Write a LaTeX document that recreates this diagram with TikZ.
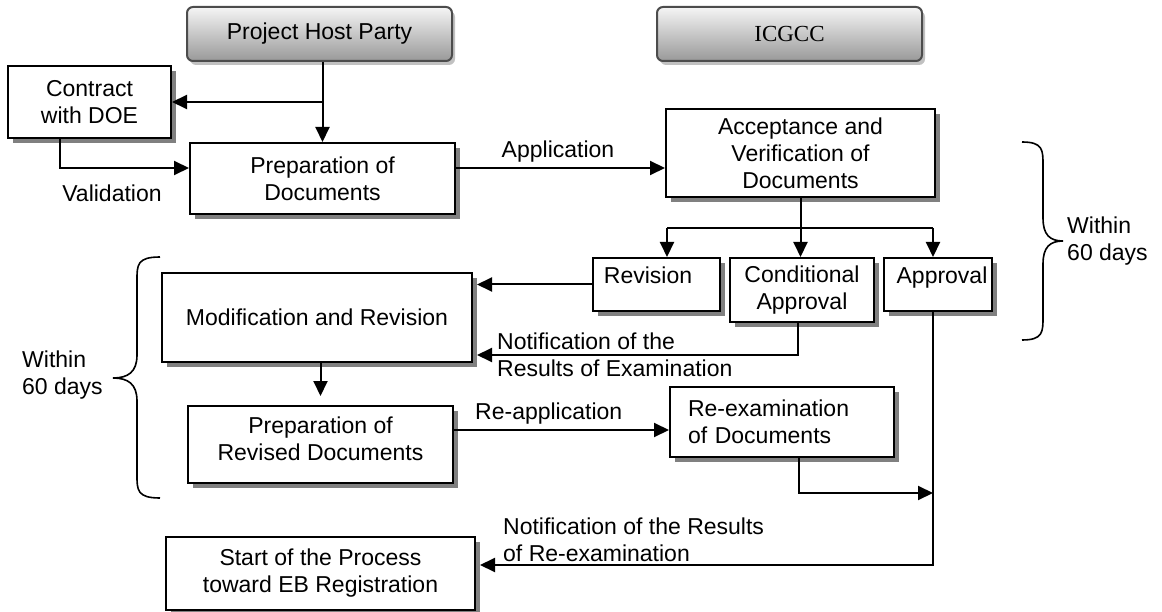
\documentclass[tikz,border=0pt]{standalone}
\usepackage{fontspec}
\setmainfont{Liberation Sans}
\newfontfamily\timesfont{Liberation Serif}
\usetikzlibrary{arrows.meta,shadows,calc}
\begin{document}
\begin{tikzpicture}[x=1pt,y=-1pt,
  every node/.style={font=\fontsize{23}{27}\selectfont, inner sep=0pt},
  box/.style={draw=black, line width=2pt, fill=white, align=center,
    drop shadow={shadow xshift=5pt, shadow yshift=-5pt, fill=black!50, opacity=1}},
  headbox/.style={draw=black!70, line width=2pt, rounded corners=6pt, align=center,
    top color=white!96!black, bottom color=black!40,
    drop shadow={shadow xshift=3pt, shadow yshift=-4pt, fill=black!30, opacity=0.8}},
  conn/.style={line width=2pt},
  arr/.style={conn, -{Triangle[length=15pt,width=14pt]}},
  brace/.style={line width=1.6pt}
]
\useasboundingbox (0,0) rectangle (1162,612);

% header boxes
\node[headbox, minimum width=265, minimum height=54] (php) at (319.5,34) {Project Host Party};
\node[headbox, minimum width=265, minimum height=54] (icgcc) at (789.5,34) {\timesfont ICGCC};

% process boxes
\node[box, minimum width=163, minimum height=72] (contract) at (89.5,102) {Contract\\with DOE};
\node[box, minimum width=265, minimum height=71] (prep) at (322.5,178.5) {Preparation of\\Documents};
\node[box, minimum width=269, minimum height=88] (accept) at (800.5,153) {Acceptance and\\Verification of\\Documents};
\node[box, minimum width=127, minimum height=53] (rev) at (656.5,284.5) {};
\node[anchor=north] (revt) at (648,267) {\vphantom{A}\smash{Revision}};
\node[box, minimum width=144, minimum height=64] (cond) at (802,290) {Conditional\\Approval};
\node[box, minimum width=108, minimum height=53] (appr) at (938,284.5) {};
\node[anchor=north] (apprt) at (942,267) {\vphantom{A}\smash{Approval}};
\node[box, minimum width=310, minimum height=89] (mod) at (317,317.5) {Modification and Revision};
\node[box, minimum width=265, minimum height=77] (prev) at (320.5,444.5) {};
\node[align=center] (prevt) at (320.5,439) {Preparation of\\Revised Documents};
\node[box, minimum width=224, minimum height=70, text width=188, align=left] (reex) at (782,422) {Re-examination\\of Documents};
\node[box, minimum width=309, minimum height=73] (start) at (320.5,573.5) {Start of the Process\\toward EB Registration};

% connectors
\draw[arr] (php.south -| prep.north) -- (prep.north);
\draw[arr] (prep.north |- contract.east) -- (contract.east);
\coordinate (cbot) at ($(contract.south west)!0.32!(contract.south east)$);
\coordinate (pin) at ($(prep.west)+(0,-10.5)$);
\draw[arr] (cbot) |- (pin);
\node[anchor=base] (lval) at (112,202) {Validation};

\coordinate (appy) at (0,168);
\draw[arr] (prep.east |- appy) -- (accept.west |- appy);
\node[anchor=base] (lapp) at (558,158) {Application};

\coordinate (busL) at (667,228);
\coordinate (busR) at (933,228);
\draw[conn] (accept.south) -- (accept.south |- busL);
\draw[conn] (busL) -- (busR);
\draw[arr] (busL) -- (busL |- rev.north);
\draw[arr] (accept.south |- busL) -- (accept.south |- cond.north);
\draw[arr] (busR) -- (busR |- appr.north);

\draw[arr, shorten >=4pt] (rev.west) -- (rev.west -| mod.east);
\coordinate (cbt) at ($(cond.south)+(-4,0)$);
\coordinate (min2) at ($(mod.east)+(0,37.5)$);
\draw[arr, shorten >=4pt] (cbt) |- (min2);
\node[anchor=west, align=left] (lnot1) at (497,355) {Notification of the\\Results of Examination};

\draw[arr, shorten >=9pt] (mod.south -| prev.north) -- (prev.north);

\coordinate (reapy) at (0,430);
\draw[arr] (prev.east |- reapy) -- (reex.west |- reapy);
\node[anchor=base west] (lreapp) at (475,419) {Re-application};

\coordinate (apbot) at ($(appr.south)+(-5,0)$);
\coordinate (rxbot) at ($(reex.south)+(17,0)$);
\coordinate (join) at (apbot |- 0,493);
\draw[arr] (rxbot) |- (join);
\coordinate (sin) at ($(start.east)+(0,-8.5)$);
\draw[arr, shorten >=4pt] (apbot) |- (sin);
\node[anchor=west, align=left] (lnot2) at (503,540) {Notification of the Results\\of Re-examination};

% braces
\draw[brace] (1022,142) .. controls (1043,142) and (1043,150) .. (1043,165) -- (1043,218)
  .. controls (1043,235) and (1050,241) .. (1063,241)
  .. controls (1050,241) and (1043,247) .. (1043,264) -- (1043,317)
  .. controls (1043,332) and (1043,340) .. (1022,340);
\node[anchor=west, align=left] (lw1) at (1067,241) {Within\\60 days};

\draw[brace] (160,257) .. controls (137,257) and (137,265) .. (137,280) -- (137,355)
  .. controls (137,372) and (128,378) .. (113,378)
  .. controls (128,378) and (137,384) .. (137,401) -- (137,475)
  .. controls (137,490) and (137,498) .. (160,498);
\node[anchor=west, align=left] (lw2) at (22,375) {Within\\60 days};
\end{tikzpicture}
\end{document}
